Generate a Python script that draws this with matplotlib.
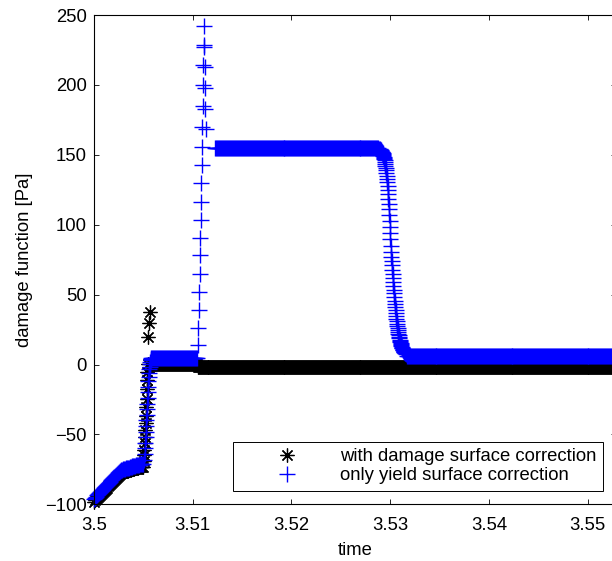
import numpy as np
import matplotlib
matplotlib.use("Agg")
import matplotlib.pyplot as plt
from matplotlib.ticker import FixedLocator, FixedFormatter

plt.rcParams['font.family'] = ['Liberation Sans', 'DejaVu Sans']

# ---------------------------------------------------------------------------
# Data: every series is a chain of segments (start time, sample step, values)
# ---------------------------------------------------------------------------
STEP = 1e-4      # regular output step
FINE = 3e-5      # step in the fast transitions

# only yield surface correction
yld_ramp = [-96.0, -95.2, -94.5, -93.7, -92.9, -92.2, -91.4, -90.6, -89.8,
            -89.1, -88.3, -87.5, -86.8, -86.0, -85.2, -84.5, -83.7, -82.9,
            -82.2, -81.4, -80.6, -79.8, -79.1, -78.3, -77.5, -76.8, -76.0]
yld_slow = [-75.7, -75.4, -75.1, -74.8, -74.5, -74.3, -74.1, -73.9, -73.7,
            -73.5, -73.3, -73.1, -72.9, -72.7, -72.5, -72.3, -72.1, -71.9,
            -71.7, -71.6, -71.5, -71.3, -71.2, -71.0]
yld_rise = [-68, -64, -60, -56, -52, -48, -44, -40, -36, -32, -28, -24, -20,
            -16, -12, -9, -6, -3.5, -1.5, 0.5, 2.0, 3.2, 4.0, 4.5]
yld_low = 4.5
yld_low_n = 46
yld_spike = [13.8, 26.0, 39.0, 52.0, 65.0, 78.0, 90.5, 103.4, 116.3, 130.0,
             142.8, 155.8, 170.0, 185.0, 200.0, 214.4, 228.7, 242.3,
             227.0, 212.5, 197.5, 183.0, 168.5]
yld_high = 155.0
yld_high_n = 166
yld_drop = [154.0, 153.9, 153.7, 153.5, 153.4, 153.1, 152.9, 152.6, 152.3, 152.0,
            151.6, 151.1, 150.6, 150.1, 149.4, 148.7, 147.9, 147.0, 146.0, 144.9,
            143.7, 142.3, 140.7, 139.1, 137.2, 135.1, 132.9, 130.4, 127.7, 124.8,
            121.7, 118.4, 114.8, 111.0, 107.0, 102.9, 98.6, 94.1, 89.5, 84.9,
            80.3, 77.1, 74.0, 71.0, 67.9, 64.9, 61.9, 59.0, 56.2, 53.5,
            50.8, 48.2, 45.7, 43.3, 41.0, 38.8, 36.7, 34.7, 32.8, 31.0,
            29.3, 27.6, 26.1, 24.7, 23.3, 22.1, 20.9, 19.8, 18.7, 17.7,
            16.8, 16.0, 15.2, 14.5, 13.8, 13.2, 12.6, 12.0, 11.5, 11.1,
            10.6, 10.2, 9.8, 9.5, 9.2, 8.9, 8.6, 8.4, 8.1, 7.9, 7.7]
yld_end = 6.0
yld_end_n = 212

# with damage surface correction
dmg_ramp = [-98.0, -97.2, -96.5, -95.7, -94.9, -94.2, -93.4, -92.6, -91.8,
            -91.1, -90.3, -89.5, -88.8, -88.0, -87.2, -86.5, -85.7, -84.9,
            -84.2, -83.4, -82.6, -81.8, -81.1, -80.3, -79.5, -78.8, -78.0]
dmg_slow = [-77.7, -77.4, -77.1, -76.8, -76.5, -76.3, -76.1, -75.9, -75.7,
            -75.5, -75.3, -75.1, -74.9, -74.7, -74.5, -74.3, -74.1, -73.9,
            -73.7, -73.6, -73.5, -73.3, -73.2, -73.0]
dmg_rise = [-69.0, -65.0, -61.0, -56.5, -52.0, -47.0, -42.0, -36.5, -30.5,
            -24.5, -17.5, -11.0, -5.5, 0.5]
dmg_burst = [20.0, 29.5, 37.5]
dmg_low = 0.5
dmg_low_n = 47
dmg_end = -1.5
dmg_end_n = 424

x_ticks = [3.5, 3.51, 3.52, 3.53, 3.54, 3.55]
x_tick_labels = ['3.5', '3.51', '3.52', '3.53', '3.54', '3.55']
y_ticks = [-100, -50, 0, 50, 100, 150, 200, 250]

yld_segments = [
    (3.5000, STEP, yld_ramp),
    (3.5027, STEP, yld_slow),
    (3.5051, FINE, yld_rise),
    (3.5059, STEP, np.full(yld_low_n, yld_low)),
    (3.51055, 3.5e-5, yld_spike),
    (3.5123, STEP, np.full(yld_high_n, yld_high)),
    (3.5289, FINE, yld_drop),
    (3.5317, STEP, np.full(yld_end_n, yld_end)),
]
dmg_segments = [
    (3.5000, STEP, dmg_ramp),
    (3.5027, STEP, dmg_slow),
    (3.50505, FINE, dmg_rise),
    (3.50552, 6e-5, dmg_burst),
    (3.5058, STEP, np.full(dmg_low_n, dmg_low)),
    (3.5105, STEP, np.full(dmg_end_n, dmg_end)),
]


def build(segments):
    times, values = [], []
    for start, step, vals in segments:
        vals = np.asarray(vals, dtype=float)
        times.append(start + step * np.arange(len(vals)))
        values.append(vals)
    return np.concatenate(times), np.concatenate(values)


t_dmg, v_dmg = build(dmg_segments)
t_yld, v_yld = build(yld_segments)

# ---------------------------------------------------------------------------
FS = 13.3
fig = plt.figure(figsize=(6.12, 5.61), dpi=100)
ax = fig.add_axes([94 / 612, 1 - 504.3 / 561, 522 / 612, 489.3 / 561])

ax.plot(t_dmg, v_dmg, linestyle='none', marker=(8, 2, 0), ms=10, mew=0.9,
        color='black', clip_on=False, label='with damage surface correction')
ax.plot(t_yld, v_yld, linestyle='none', marker='+', ms=11.5, mew=1.0,
        color='blue', clip_on=False, label='only yield surface correction')

ax.set_xlim(3.5, 3.5 + 522 / 9870)
ax.set_ylim(-100, 250)
ax.xaxis.set_major_locator(FixedLocator(x_ticks))
ax.xaxis.set_major_formatter(FixedFormatter(x_tick_labels))
ax.yaxis.set_major_locator(FixedLocator(y_ticks))

ax.tick_params(direction='in', length=3.6, width=0.6, top=True, right=True,
               labelsize=FS, colors='black')
ax.tick_params(axis='x', pad=9)
ax.tick_params(axis='y', pad=5)
for s in ax.spines.values():
    s.set_linewidth(0.8)

ax.set_xlabel('time', fontsize=FS, labelpad=6)
ax.set_ylabel('damage function [Pa]', fontsize=FS, labelpad=9)

leg = ax.legend(loc='lower left', bbox_to_anchor=(0.266, 0.0278, 0.709, 0.1138),
                mode='expand', borderaxespad=0, fancybox=False, framealpha=1,
                edgecolor='black', fontsize=FS, numpoints=1, handlelength=5.2,
                handletextpad=0.25, borderpad=0.35, labelspacing=0.12)
leg.get_frame().set_linewidth(0.7)

fig.savefig('out.png', dpi=100)
